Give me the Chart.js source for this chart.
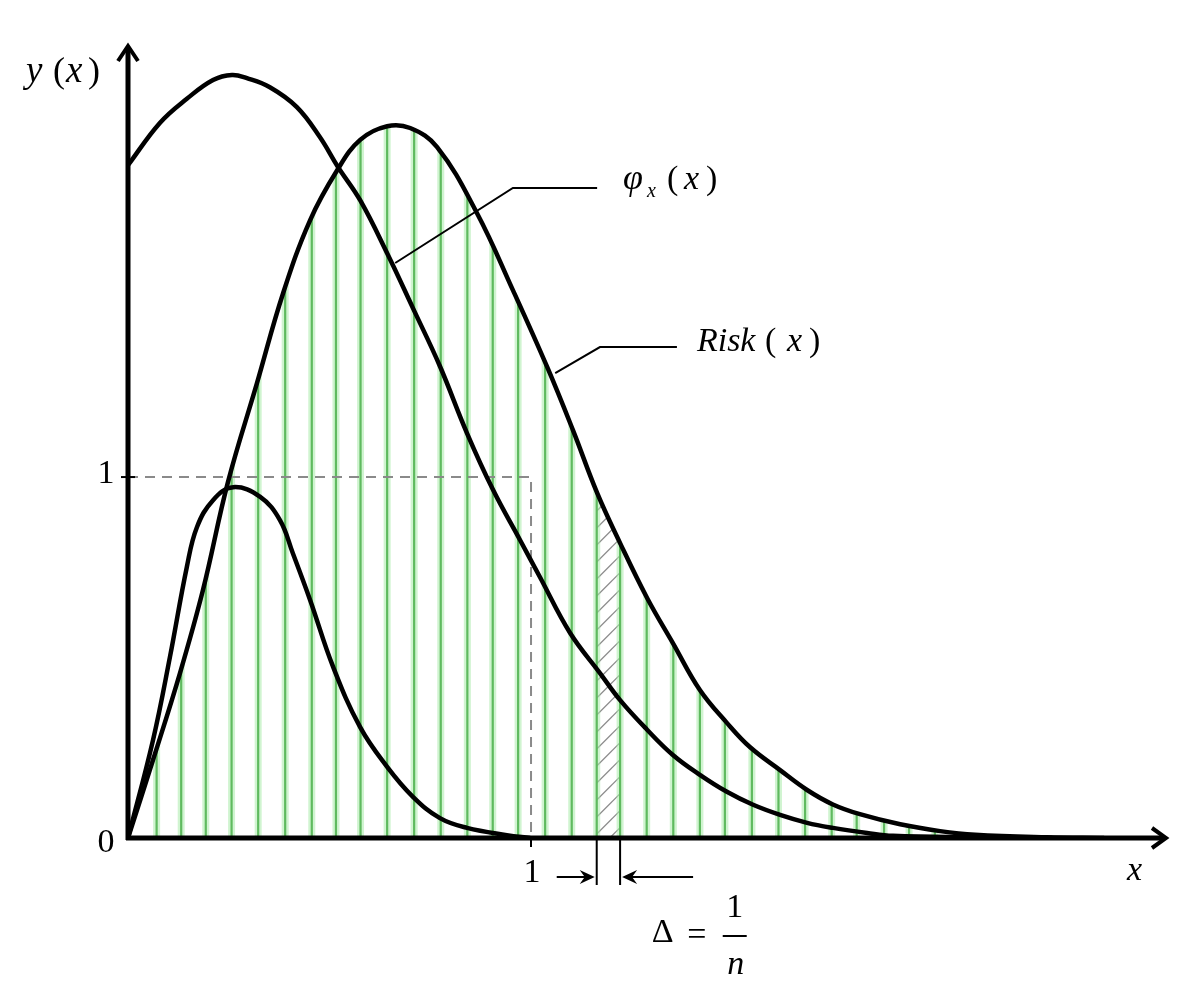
<!DOCTYPE html>
<html>
<head>
<meta charset="utf-8">
<script src="https://cdn.jsdelivr.net/npm/chart.js@4.4.0/dist/chart.umd.min.js"></script>
<style>
  html, body { margin: 0; padding: 0; background: #fff; }
  #wrap { width: 1203px; height: 1000px; }
</style>
</head>
<body>
<div id="wrap"><canvas id="plot" width="1203" height="1000"></canvas></div>
<script>
// values, in axis units (the dashed marks are x = 1 and y = 1)
var phiX = [0, 0.079, 0.146, 0.211, 0.258, 0.295, 0.352, 0.419, 0.476, 0.521, 0.576, 0.643, 0.707, 0.774, 0.841, 0.906, 0.973, 1.022, 1.097, 1.171, 1.221, 1.288, 1.352, 1.419, 1.486, 1.551, 1.618, 1.685, 1.749, 1.834, 1.898, 2.102, 2.293];
var phiY = [1.864, 1.981, 2.048, 2.100, 2.114, 2.105, 2.080, 2.025, 1.942, 1.859, 1.767, 1.620, 1.468, 1.307, 1.122, 0.964, 0.825, 0.723, 0.568, 0.457, 0.382, 0.300, 0.230, 0.175, 0.128, 0.092, 0.064, 0.042, 0.028, 0.014, 0.006, 0.002, 0];

var riskX = [0, 0.062, 0.129, 0.186, 0.248, 0.320, 0.385, 0.452, 0.519, 0.576, 0.643, 0.700, 0.767, 0.866, 0.955, 1.040, 1.104, 1.164, 1.221, 1.288, 1.352, 1.419, 1.486, 1.543, 1.618, 1.685, 1.749, 1.816, 1.916, 2.015, 2.102, 2.280, 2.422];
var riskY = [0, 0.216, 0.457, 0.687, 0.986, 1.260, 1.510, 1.712, 1.850, 1.934, 1.972, 1.967, 1.914, 1.731, 1.518, 1.305, 1.130, 0.956, 0.817, 0.665, 0.540, 0.410, 0.319, 0.252, 0.188, 0.133, 0.093, 0.066, 0.038, 0.019, 0.009, 0.002, 0];

var smallX = [0, 0.062, 0.104, 0.146, 0.171, 0.211, 0.261, 0.328, 0.377, 0.409, 0.452, 0.509, 0.576, 0.643, 0.707, 0.774, 0.841, 0.940, 0.998];
var smallY = [0, 0.271, 0.501, 0.751, 0.861, 0.936, 0.972, 0.945, 0.881, 0.789, 0.659, 0.474, 0.307, 0.197, 0.114, 0.055, 0.028, 0.008, 0];

// green strokes under Risk(x), one per step of 1/n
var hatchX = [0.071, 0.132, 0.193, 0.257, 0.323, 0.390, 0.456, 0.516, 0.577, 0.643, 0.710, 0.776, 0.842, 0.905, 0.968, 1.035, 1.101, 1.163, 1.221, 1.287, 1.353, 1.419, 1.481, 1.548, 1.614, 1.680, 1.746, 1.808, 1.876, 1.938, 2.002, 2.065];
var deltaFrom = 1.163, deltaTo = 1.221;

var xTicks = [1];
var yTicks = [0, 1];

var guideX = [0, 1, 1], guideY = [1, 1, 0];
var phiLeadX = [0.663, 0.955, 1.164], phiLeadY = [1.593, 1.801, 1.801];
var riskLeadX = [1.060, 1.171, 1.362], riskLeadY = [1.288, 1.360, 1.360];

function pts(xs, ys) {
    return xs.map(function (x, i) { return {x: x, y: ys[i]}; });
}

function curve(xs, ys) {
    return {
        data: pts(xs, ys),
        showLine: true,
        borderColor: '#000',
        borderWidth: 4.5,
        pointRadius: 0,
        tension: 0.4,
        fill: false
    };
}

function thin(xs, ys, color, width, dash) {
    return {
        data: pts(xs, ys),
        showLine: true,
        borderColor: color,
        borderWidth: width,
        borderDash: dash || [],
        pointRadius: 0,
        tension: 0,
        fill: false
    };
}

var SERIF = '"Liberation Serif", "DejaVu Serif", serif';

function chevron(ctx, tx, ty, dx, dy, len, half) {
    // arrow head pointing along (dx, dy)
    var px = -dy, py = dx;
    ctx.beginPath();
    ctx.moveTo(tx - dx * len + px * half, ty - dy * len + py * half);
    ctx.lineTo(tx, ty);
    ctx.lineTo(tx - dx * len - px * half, ty - dy * len - py * half);
    ctx.stroke();
}

function solidHead(ctx, tx, ty, dir) {
    ctx.beginPath();
    ctx.moveTo(tx, ty);
    ctx.lineTo(tx - dir * 15, ty - 7);
    ctx.lineTo(tx - dir * 10, ty);
    ctx.lineTo(tx - dir * 15, ty + 7);
    ctx.closePath();
    ctx.fill();
}

var sketch = {
    id: 'sketch',
    beforeDatasetsDraw: function (chart) {
        var ctx = chart.ctx, xs = chart.scales.x, ys = chart.scales.y;
        var area = chart.chartArea;
        var y0 = ys.getPixelForValue(0);
        var meta = chart.getDatasetMeta(1);
        if (meta.dataset && meta.dataset.updateControlPoints) {
            meta.dataset.updateControlPoints(area, 'x');
        }
        var p = meta.data;

        ctx.save();
        ctx.beginPath();
        ctx.moveTo(p[0].x, p[0].y);
        for (var i = 1; i < p.length; i++) {
            var a = p[i - 1], b = p[i];
            if (a.cp2x !== undefined && b.cp1x !== undefined) {
                ctx.bezierCurveTo(a.cp2x, a.cp2y, b.cp1x, b.cp1y, b.x, b.y);
            } else {
                ctx.lineTo(b.x, b.y);
            }
        }
        ctx.lineTo(p[p.length - 1].x, y0);
        ctx.lineTo(p[0].x, y0);
        ctx.closePath();
        ctx.clip();

        // grey slanted strip of width 1/n
        var l = xs.getPixelForValue(deltaFrom), r = xs.getPixelForValue(deltaTo);
        ctx.save();
        ctx.beginPath();
        ctx.rect(l, area.top, r - l, y0 - area.top);
        ctx.clip();
        ctx.strokeStyle = '#8a8a8a';
        ctx.lineWidth = 1.3;
        for (var yy = y0 + 30; yy > area.top; yy -= 17) {
            ctx.beginPath();
            ctx.moveTo(l, yy);
            ctx.lineTo(r, yy - (r - l));
            ctx.stroke();
        }
        ctx.restore();

        hatchX.forEach(function (v) {
            var px = xs.getPixelForValue(v);
            ctx.strokeStyle = 'rgba(170,235,170,0.55)';
            ctx.lineWidth = 7;
            ctx.beginPath();
            ctx.moveTo(px, y0);
            ctx.lineTo(px, area.top);
            ctx.stroke();
            ctx.strokeStyle = '#5fba5f';
            ctx.lineWidth = 2.2;
            ctx.beginPath();
            ctx.moveTo(px, y0);
            ctx.lineTo(px, area.top);
            ctx.stroke();
        });
        ctx.restore();
    },
    afterDatasetsDraw: function (chart) {
        var ctx = chart.ctx, xs = chart.scales.x, ys = chart.scales.y;
        var area = chart.chartArea;
        var ox = xs.getPixelForValue(0), oy = ys.getPixelForValue(0);

        ctx.save();
        ctx.strokeStyle = '#000';
        ctx.fillStyle = '#000';
        ctx.lineCap = 'butt';

        // axes
        ctx.lineWidth = 5;
        ctx.beginPath();
        ctx.moveTo(ox, oy + 2);
        ctx.lineTo(ox, area.top + 3);
        ctx.moveTo(ox - 2, oy);
        ctx.lineTo(area.right - 3, oy);
        ctx.stroke();
        ctx.lineWidth = 4;
        ctx.lineJoin = 'miter';
        chevron(ctx, ox, area.top + 1, 0, -1, 15, 10);
        chevron(ctx, area.right - 1, oy, 1, 0, 14, 10);

        // ticks
        ctx.lineWidth = 2;
        yTicks.forEach(function (v) {
            if (v === 0) return;
            var py = ys.getPixelForValue(v);
            ctx.beginPath();
            ctx.moveTo(ox - 7, py);
            ctx.lineTo(ox + 7, py);
            ctx.stroke();
        });
        xTicks.forEach(function (v) {
            var px = xs.getPixelForValue(v);
            ctx.beginPath();
            ctx.moveTo(px, oy);
            ctx.lineTo(px, oy + 9);
            ctx.stroke();
        });

        ctx.font = '34px ' + SERIF;
        ctx.textAlign = 'center';
        ctx.textBaseline = 'middle';
        yTicks.forEach(function (v) {
            ctx.fillText(String(v), ox - 22, ys.getPixelForValue(v) + (v === 0 ? 5 : -3));
        });
        xTicks.forEach(function (v) {
            ctx.fillText(String(v), xs.getPixelForValue(v) + 1, oy + 35);
        });

        // axis names
        ctx.textAlign = 'left';
        ctx.textBaseline = 'alphabetic';
        ctx.font = 'italic 34px ' + SERIF;
        ctx.fillText('x', area.right - 40, oy + 42);
        var yb = area.top + 37;
        ctx.font = 'italic 37px ' + SERIF;
        ctx.fillText('y', ox - 102, yb);
        ctx.fillText('x', ox - 62, yb);
        ctx.font = '36px ' + SERIF;
        ctx.fillText('(', ox - 75, yb);
        ctx.fillText(')', ox - 40, yb);

        // curve names at the ends of the leaders
        var pe = {x: xs.getPixelForValue(phiLeadX[2]), y: ys.getPixelForValue(phiLeadY[2])};
        ctx.font = 'italic 36px ' + SERIF;
        ctx.fillText('\u03c6', pe.x + 26, pe.y + 1);
        ctx.font = 'italic 34px ' + SERIF;
        ctx.fillText('x', pe.x + 87, pe.y + 1);
        ctx.font = 'italic 20px ' + SERIF;
        ctx.fillText('x', pe.x + 50, pe.y + 9);
        ctx.font = '34px ' + SERIF;
        ctx.fillText('(', pe.x + 70, pe.y + 1);
        ctx.fillText(')', pe.x + 109, pe.y + 1);

        var re = {x: xs.getPixelForValue(riskLeadX[2]), y: ys.getPixelForValue(riskLeadY[2])};
        ctx.font = 'italic 34px ' + SERIF;
        ctx.fillText('Risk', re.x + 20, re.y + 4);
        ctx.fillText('x', re.x + 110, re.y + 4);
        ctx.font = '34px ' + SERIF;
        ctx.fillText('(', re.x + 88, re.y + 4);
        ctx.fillText(')', re.x + 132, re.y + 4);

        // the step width 1/n
        var l = xs.getPixelForValue(deltaFrom), r = xs.getPixelForValue(deltaTo);
        ctx.lineWidth = 2;
        ctx.beginPath();
        ctx.moveTo(l, oy);
        ctx.lineTo(l, oy + 47);
        ctx.moveTo(r, oy);
        ctx.lineTo(r, oy + 47);
        ctx.moveTo(l - 40, oy + 39);
        ctx.lineTo(l - 6, oy + 39);
        ctx.moveTo(r + 6, oy + 39);
        ctx.lineTo(r + 73, oy + 39);
        ctx.stroke();
        solidHead(ctx, l - 2, oy + 39, 1);
        solidHead(ctx, r + 2, oy + 39, -1);

        ctx.font = '34px ' + SERIF;
        ctx.textAlign = 'center';
        ctx.textBaseline = 'middle';
        ctx.fillText('\u0394', l + 66, oy + 95);
        ctx.fillText('=', l + 100, oy + 98);
        ctx.fillText('1', l + 138, oy + 70);
        ctx.beginPath();
        ctx.moveTo(l + 126, oy + 98);
        ctx.lineTo(l + 150, oy + 98);
        ctx.stroke();
        ctx.font = 'italic 34px ' + SERIF;
        ctx.fillText('n', l + 139, oy + 127);
        ctx.restore();
    }
};

new Chart(document.getElementById('plot'), {
    type: 'scatter',
    data: {
        datasets: [
            curve(phiX, phiY),
            curve(riskX, riskY),
            curve(smallX, smallY),
            thin(guideX, guideY, '#8a8a8a', 2, [10, 7]),
            thin(phiLeadX, phiLeadY, '#000', 2),
            thin(riskLeadX, riskLeadY, '#000', 2)
        ]
    },
    options: {
        responsive: false,
        animation: false,
        events: [],
        layout: {padding: {left: 128, right: 36, top: 45, bottom: 162}},
        plugins: {legend: {display: false}, tooltip: {enabled: false}},
        scales: {
            x: {type: 'linear', min: 0, max: 2.578, display: false},
            y: {type: 'linear', min: 0, max: 2.197, display: false}
        }
    },
    plugins: [sketch]
});
</script>
</body>
</html>
